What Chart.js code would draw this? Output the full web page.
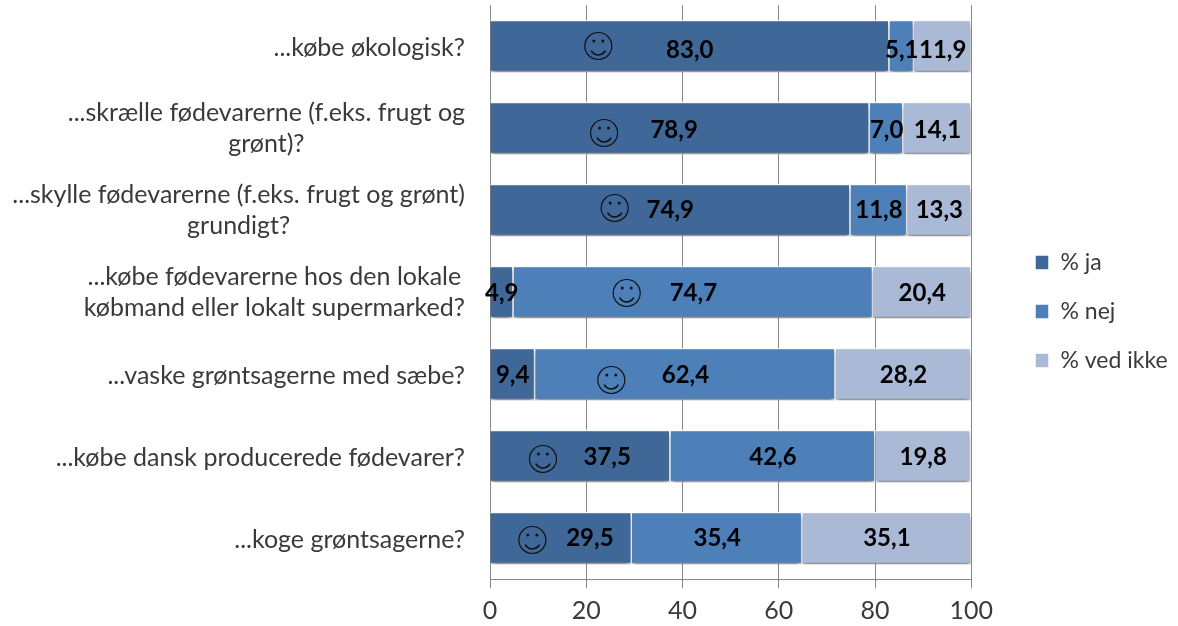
<!DOCTYPE html>
<html><head><meta charset="utf-8">
<style>html,body{margin:0;padding:0;background:#fff}#w{width:1178px;height:626px;position:relative}</style>
<script src="https://cdn.jsdelivr.net/npm/chart.js@4"></script></head>
<body><div id="w"><canvas id="c" width="1178" height="626"></canvas></div>
<script>
const categoryLines = [
  ["...købe økologisk?"],
  ["...skrælle fødevarerne (f.eks. frugt og","grønt)?"],
  ["...skylle fødevarerne (f.eks. frugt og grønt)","grundigt?"],
  ["...købe fødevarerne hos den lokale","købmand eller lokalt supermarked?"],
  ["...vaske grøntsagerne med sæbe?"],
  ["...købe dansk producerede fødevarer?"],
  ["...koge grøntsagerne?"]
];
const ja  = [83.0,78.9,74.9,4.9,9.4,37.5,29.5];
const nej = [5.1,7.0,11.8,74.7,62.4,42.6,35.4];
const vedIkke = [11.9,14.1,13.3,20.4,28.2,19.8,35.1];
const jaLabelShift = [0,-1.2,0,0,0,5.6,6];
const smileyAt = [22.5,23.7,25.9,28.4,25.2,11,8.8];
const smileyDy = [0,5,-2,1,6,3,2];
const labelDy = [4,2,0,1,1,1,0];
const seriesNames = ["% ja","% nej","% ved ikke"];
const seriesColors = ["#3F6797","#4D7FB9","#A9B9D6"];
const textColor = "#3a3a3a";
const FONT = "Lato, Carlito, sans-serif";

const shadowPlugin = {
  id:'barShadow',
  beforeDatasetDraw(chart){const c=chart.ctx;c.save();c.shadowColor='rgba(0,0,0,0.45)';c.shadowBlur=5;c.shadowOffsetY=4;},
  afterDatasetDraw(chart){chart.ctx.restore();}
};
const legendPlacePlugin = {
  id:'legendPlace',
  afterLayout(chart){
    const l=chart.legend;
    l.left=1009;l.right=1009+l.width;l.top-=4;l.bottom-=4;
  }
};
const annotationPlugin = {
  id:'annot',
  afterDatasetsDraw(chart){
    const c=chart.ctx,x=chart.scales.x,y=chart.scales.y;
    c.save();
    c.font="25px "+FONT;c.fillStyle=textColor;c.textBaseline='middle';c.textAlign='center';
    const rightEdge=x.getPixelForValue(0)-25;
    categoryLines.forEach((lines,i)=>{
      const w=Math.max(...lines.map(l=>c.measureText(l).width));
      const cy=y.getPixelForValue(i);
      lines.forEach((l,k)=>c.fillText(l,rightEdge-w/2,cy+(k-(lines.length-1)/2)*31+(lines.length===1?2:0)));
    });
    c.font="bold 24px "+FONT;c.fillStyle="#000";
    const series=[ja,nej,vedIkke];
    ja.forEach((_,i)=>{
      let start=0;
      series.forEach((s,k)=>{
        const shift=k===0?jaLabelShift[i]:0;
        c.fillText(s[i].toFixed(1).replace('.',','),x.getPixelForValue(start+s[i]/2+shift),y.getPixelForValue(i)+labelDy[i]);
        start+=s[i];
      });
      const sx=x.getPixelForValue(smileyAt[i]),sy=y.getPixelForValue(i)+smileyDy[i];
      c.strokeStyle="#111";c.lineWidth=1.2;
      c.beginPath();c.arc(sx,sy,13.5,0,Math.PI*2);c.stroke();
      c.beginPath();c.arc(sx,sy+1,8,0.15*Math.PI,0.85*Math.PI);c.lineWidth=1.6;c.stroke();
      c.fillStyle="#111";
      [-4.5,4.5].forEach(d=>{c.beginPath();c.arc(sx+d,sy-5,1.5,0,Math.PI*2);c.fill();});
      c.fillStyle="#000";
    });
    c.restore();
  }
};
const chart = new Chart(document.getElementById('c'),{
  type:'bar',
  data:{
    labels:categoryLines.map(l=>l.join(' ')),
    datasets:seriesNames.map((n,k)=>({
      label:n,
      data:[ja,nej,vedIkke][k],
      backgroundColor:seriesColors[k],
      borderColor:'#fff',
      borderWidth:1.5,
      barPercentage:0.64,
      categoryPercentage:1
    }))
  },
  options:{
    indexAxis:'y',responsive:false,animation:false,
    layout:{padding:{left:0,right:38,top:5,bottom:0}},
    plugins:{
      tooltip:{enabled:false},
      legend:{position:'right',labels:{boxWidth:14,boxHeight:15,padding:26,color:textColor,font:{family:FONT,size:23}}}
    },
    scales:{
      x:{stacked:true,min:0,max:100,
        ticks:{stepSize:20,color:textColor,font:{family:FONT,size:25},padding:8,maxRotation:0},
        grid:{color:'#868686',tickLength:9,tickColor:'#868686',lineWidth:1},
        border:{color:'#868686'},
        afterFit(s){s.height=47;}
      },
      y:{stacked:true,
        ticks:{display:false},
        grid:{display:false},
        border:{color:'#868686'},
        afterFit(s){s.width=490;}
      }
    }
  },
  plugins:[shadowPlugin,legendPlacePlugin,annotationPlugin]
});
</script></body></html>
